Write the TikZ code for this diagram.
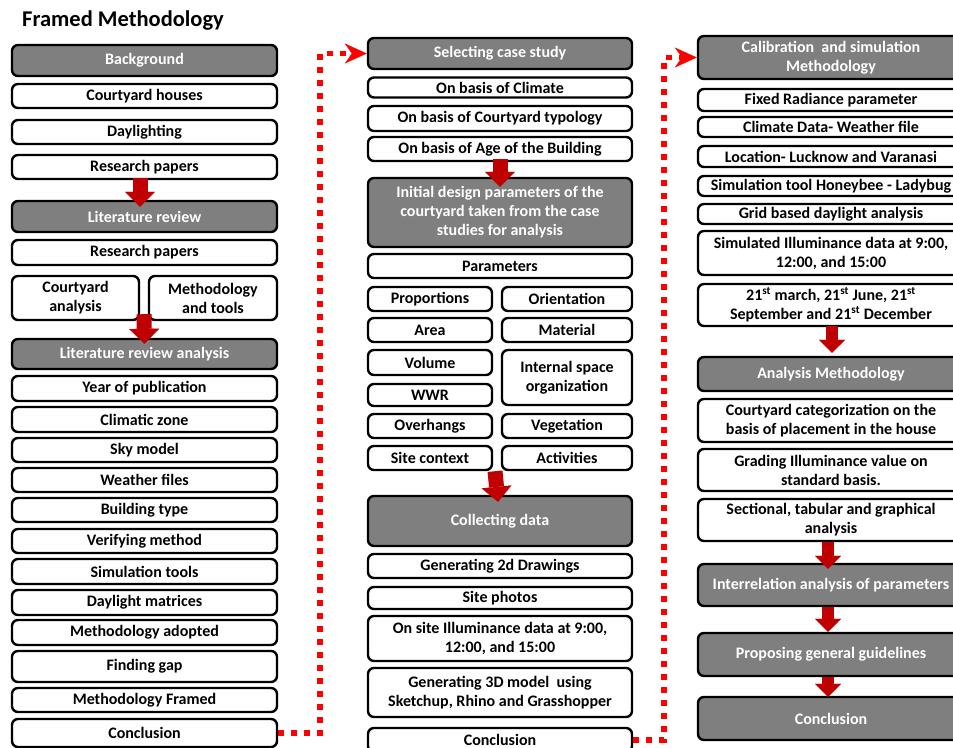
\documentclass[tikz,border=0pt]{standalone}
\usepackage{fontspec}
\setmainfont{Carlito}
\usetikzlibrary{arrows.meta,calc}
\definecolor{boxgray}{HTML}{7F7F7F}
\definecolor{darkred}{HTML}{C00000}

\begin{document}
\begin{tikzpicture}[x=1pt, y=-1pt,
    every node/.style={font=\bfseries\fontsize{16}{19}\selectfont},
    wd/.style={minimum width=#1pt},
    ht/.style={minimum height=#1pt},
    wbox/.style={draw, line width=2.4pt, rounded corners=6pt, fill=white, align=center, inner sep=0pt},
    gbox/.style={wbox, fill=boxgray, text=white},
    dotlink/.style={red, line width=5.5pt, dash pattern=on 6pt off 7pt,
        -{Stealth[length=22pt, width=20pt, inset=7pt, line width=0.5pt]}},
    blockarrow/.style={darkred, line width=15pt,
        -{Triangle[length=15pt, width=30pt, line width=0.1pt]}},
    smallarrow/.style={darkred, line width=12pt,
        -{Triangle[length=13pt, width=26pt, line width=0.1pt]}}]

    \clip (0,0) rectangle (953,747);

    \node[anchor=west, font=\bfseries\fontsize{22.5}{26}\selectfont, inner sep=0pt] (title) at (22,21) {Framed Methodology};

    % left column
    \node[gbox, wd=265, ht=31] (bg) at (144.5,60.5) {Background};
    \node[wbox, wd=265, ht=24] (chouse) at (144.5,96) {Courtyard houses};
    \node[wbox, wd=265, ht=24] (daylt) at (144.5,132) {Daylighting};
    \node[wbox, wd=265, ht=24] (respap) at (144.5,167) {Research papers};
    \node[gbox, wd=265, ht=31] (litrev) at (144.5,216.5) {Literature review};
    \node[wbox, wd=265, ht=25] (respapb) at (144.5,252.5) {Research papers};
    \node[wbox, wd=127, ht=44] (cyana) at (75.5,298) {Courtyard\\analysis};
    \node[wbox, wd=128, ht=44] (methtool) at (213,298) {Methodology\\and tools};
    \node[gbox, wd=265, ht=30] (lra) at (144.5,354) {Literature review analysis};
    \node[wbox, wd=265, ht=25] (year) at (144.5,388.5) {Year of publication};
    \node[wbox, wd=265, ht=25] (climz) at (144.5,419.5) {Climatic zone};
    \node[wbox, wd=265, ht=24] (sky) at (144.5,450) {Sky model};
    \node[wbox, wd=265, ht=24] (weather) at (144.5,480) {Weather files};
    \node[wbox, wd=265, ht=24] (btype) at (144.5,510) {Building type};
    \node[wbox, wd=265, ht=24] (verif) at (144.5,541) {Verifying method};
    \node[wbox, wd=265, ht=25] (simt) at (144.5,571.5) {Simulation tools};
    \node[wbox, wd=265, ht=25] (dmat) at (144.5,602.5) {Daylight matrices};
    \node[wbox, wd=265, ht=25] (madopt) at (144.5,632.5) {Methodology adopted};
    \node[wbox, wd=265, ht=31] (fgap) at (144.5,666.5) {Finding gap};
    \node[wbox, wd=265, ht=24] (mfram) at (144.5,700) {Methodology Framed};
    \node[wbox, wd=265, ht=28] (lconc) at (144.5,733) {Conclusion};

    % middle column
    \node[gbox, wd=264, ht=31] (selcase) at (500,53.5) {Selecting case study};
    \node[wbox, wd=264, ht=20] (onclim) at (500,87.5) {On basis of Climate};
    \node[wbox, wd=264, ht=25] (ontyp) at (500,118.5) {On basis of Courtyard typology};
    \node[wbox, wd=264, ht=24] (onage) at (500,149) {On basis of Age of the Building};
    \node[gbox, wd=264, ht=69] (initd) at (500,212.5) {Initial design parameters of the\\courtyard taken from the case\\studies for analysis};
    \node[wbox, wd=264, ht=24] (params) at (500,266) {Parameters};
    \node[wbox, wd=124, ht=24] (props) at (430,299) {Proportions};
    \node[wbox, wd=130, ht=24] (orient) at (567,299) {Orientation};
    \node[wbox, wd=124, ht=24] (area) at (430,330) {Area};
    \node[wbox, wd=130, ht=24] (material) at (567,330) {Material};
    \node[wbox, wd=124, ht=25] (volume) at (430,362.5) {Volume};
    \node[wbox, wd=130, ht=55] (intsp) at (567,377.5) {Internal space\\organization};
    \node[wbox, wd=124, ht=22] (wwr) at (430,395) {WWR};
    \node[wbox, wd=124, ht=24] (overh) at (430,426) {Overhangs};
    \node[wbox, wd=130, ht=24] (veg) at (567,426) {Vegetation};
    \node[wbox, wd=124, ht=24] (sitec) at (430,458) {Site context};
    \node[wbox, wd=130, ht=24] (activ) at (567,458) {Activities};
    \node[gbox, wd=264, ht=50] (colldata) at (500,521) {Collecting data};
    \node[wbox, wd=264, ht=24] (gen2d) at (500,566) {Generating 2d Drawings};
    \node[wbox, wd=264, ht=22] (sitep) at (500,598) {Site photos};
    \node[wbox, wd=264, ht=45] (onsite) at (500,638.5) {On site Illuminance data at 9:00,\\12:00, and 15:00};
    \node[wbox, wd=264, ht=49] (gen3d) at (500,692.5) {Generating 3D model\ \ using\\Sketchup, Rhino and Grasshopper};
    \node[wbox, wd=264, ht=24] (mconc) at (500,740) {Conclusion};

    % right column
    \node[gbox, wd=266, ht=43] (calib) at (831,57.5) {Calibration\ \ and simulation\\Methodology};
    \node[wbox, wd=266, ht=22] (fixrad) at (831,100) {Fixed Radiance parameter};
    \node[wbox, wd=266, ht=20] (climd) at (831,127) {Climate Data- Weather file};
    \node[wbox, wd=266, ht=21] (loc) at (831,156.5) {Location- Lucknow and Varanasi};
    \node[wbox, wd=266, ht=20] (simtool) at (831,186) {Simulation tool Honeybee - Ladybug};
    \node[wbox, wd=266, ht=20] (grid) at (831,214) {Grid based daylight analysis};
    \node[wbox, wd=266, ht=44] (simill) at (831,253) {Simulated Illuminance data at 9:00,\\12:00, and 15:00};
    \node[wbox, wd=266, ht=42] (dates) at (831,305) {21\textsuperscript{st} march, 21\textsuperscript{st} June, 21\textsuperscript{st}\\September and 21\textsuperscript{st} December};
    \node[gbox, wd=266, ht=34] (anameth) at (831,374) {Analysis Methodology};
    \node[wbox, wd=266, ht=43] (categ) at (831,420.5) {Courtyard categorization on the\\basis of placement in the house};
    \node[wbox, wd=266, ht=42] (grading) at (831,470) {Grading Illuminance value on\\standard basis.};
    \node[wbox, wd=266, ht=42] (sectional) at (831,520) {Sectional, tabular and graphical\\analysis};
    \node[gbox, wd=266, ht=42] (interrel) at (831,585) {Interrelation analysis of parameters};
    \node[gbox, wd=266, ht=43] (propos) at (831,654.5) {Proposing general guidelines};
    \node[gbox, wd=266, ht=43] (rconc) at (831,718.5) {Conclusion};

    % dotted links between columns
    \draw[dotlink] (lconc.east) -- ++(42,0) |- (selcase.west);
    \draw[dotlink] (mconc.east) -- ++(31,0) |- (calib.west);

    % red block arrows
    \draw[blockarrow] ($(respap.south)+(-4.5,-2)$) -- ($(litrev.north)+(-4.5,7)$);
    \draw[blockarrow] ($(cyana.south east)!.5!(methtool.south west)+(0,-7)$) -- ($(lra.north)+(0,6)$);
    \draw[blockarrow] ($(onage.south)+(0,-3)$) -- ($(initd.north)+(0,10)$);
    \draw[blockarrow] ($(sitec.south east)!.5!(activ.south west)+(-2,0)$) -- ($(colldata.north)+(-2,7)$);
    \draw[smallarrow] ($(dates.south)+(1,-1)$) -- ($(anameth.north)+(1,-3)$);
    \draw[smallarrow] ($(sectional.south)+(-3,0)$) -- ($(interrel.north)+(-3,6)$);
    \draw[smallarrow] ($(interrel.south)+(-3,0)$) -- ($(propos.north)+(-3,0)$);
    \draw[smallarrow] ($(propos.south)+(-3,0)$) -- ($(rconc.north)+(-3,1)$);
\end{tikzpicture}
\end{document}
